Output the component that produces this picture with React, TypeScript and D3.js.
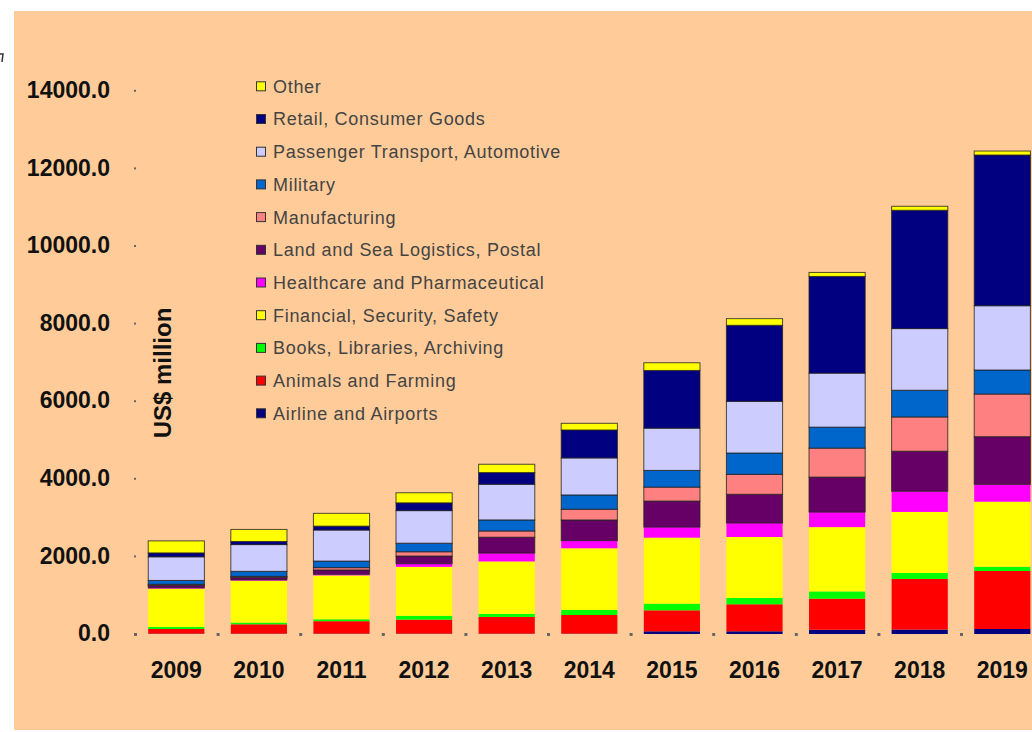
import React from "react";
import * as d3 from "d3";

const years = ["2009", "2010", "2011", "2012", "2013", "2014", "2015", "2016", "2017", "2018", "2019"];

const seriesNames = [
  "Airline and Airports",
  "Animals and Farming",
  "Books, Libraries, Archiving",
  "Financial, Security, Safety",
  "Healthcare and Pharmaceutical",
  "Land and Sea Logistics, Postal",
  "Manufacturing",
  "Military",
  "Passenger Transport, Automotive",
  "Retail, Consumer Goods",
  "Other",
];

const airline = [10, 10, 10, 10, 10, 10, 70, 70, 110, 115, 129];
const animals = [120, 240, 320, 360, 430, 480, 540, 696, 800, 1304, 1495];
const books = [50, 45, 50, 100, 80, 130, 173, 162, 188, 155, 111];
const financial = [990, 1080, 1130, 1260, 1350, 1590, 1700, 1572, 1657, 1572, 1675];
const healthcare = [20, 20, 30, 80, 215, 196, 273, 361, 387, 533, 448];
const land = [60, 60, 110, 200, 410, 533, 670, 740, 902, 1031, 1227];
const manufacturing = [30, 30, 60, 110, 160, 276, 360, 515, 747, 884, 1100];
const military = [100, 130, 170, 220, 285, 369, 430, 549, 541, 688, 619];
const passenger = [610, 690, 800, 840, 920, 954, 1090, 1332, 1392, 1590, 1657];
const retail = [100, 80, 100, 200, 300, 720, 1487, 1959, 2492, 3049, 3884];
const other = [310, 310, 330, 260, 215, 172, 198, 172, 103, 103, 103];

const seriesValues = [airline, animals, books, financial, healthcare, land, manufacturing, military, passenger, retail, other];

const colors = ["#000080", "#FF0000", "#00FF00", "#FFFF00", "#FF00FF", "#660066", "#FF8080", "#0066CC", "#CCCCFF", "#000080", "#FFFF00"];
const outlined = [false, false, false, false, false, true, true, true, true, true, true];

const yTicks = [0, 2000, 4000, 6000, 8000, 10000, 12000, 14000];

export default function App() {
  const W = 1032;
  const H = 732;
  const x = d3.scaleBand<string>().domain(years).range([135, 1043.6]).paddingInner(0.32).paddingOuter(0.16);
  const y = d3.scaleLinear().domain([0, 14000]).range([634, 90.8]);

  const rows = years.map((yr, i) => {
    const r: any = { year: yr };
    seriesNames.forEach((n, k) => (r[n] = seriesValues[k][i]));
    return r;
  });
  const stacked = d3.stack().keys(seriesNames)(rows);

  const legendOrder = seriesNames.map((n, i) => i).reverse();
  const font = "'Liberation Sans', Arial, Helvetica, sans-serif";

  return (
    <svg width={W} height={H} style={{ position: "absolute", left: 0, top: 0, background: "#fff" }}>
      <rect x={14} y={11} width={W - 14} height={719} fill="#FFCC99" />
      <path d="M0,54 L3,54 L2,62" stroke="#333" strokeWidth={1.5} fill="none" />
      <defs>
        <clipPath id="plotclip">
          <rect x={14} y={11} width={W - 14} height={719} />
        </clipPath>
      </defs>

      {yTicks.map((t) => (
        <g key={t}>
          <rect x={134} y={y(t) - 1} width={2} height={2} fill="#666" />
          <text
            x={110}
            y={y(t) - 1}
            dy="0.36em"
            textAnchor="end"
            fontFamily={font}
            fontWeight="bold"
            fontSize={23}
            fill="#111"
          >
            {t.toFixed(1)}
          </text>
        </g>
      ))}

      {years.map((yr, i) => (
        <rect key={yr} x={135 + i * x.step() - 1} y={633} width={3} height={3} fill="#666" />
      ))}

      <text
        transform={`translate(171,373) rotate(-90)`}
        textAnchor="middle"
        fontFamily={font}
        fontWeight="bold"
        fontSize={24}
        fill="#111"
      >
        US$ million
      </text>

      <g clipPath="url(#plotclip)">
        {stacked.map((s, k) => (
          <g key={seriesNames[k]}>
            {s.map((d, i) => (
              <rect
                key={i}
                x={x(years[i])}
                width={x.bandwidth()}
                y={y(d[1])}
                height={Math.max(0, y(d[0]) - y(d[1]))}
                fill={colors[k]}
                stroke={outlined[k] ? "#222" : "none"}
                strokeOpacity={0.8}
                strokeWidth={1}
              />
            ))}
          </g>
        ))}
      </g>

      {years.map((yr) => (
        <text
          key={yr}
          x={(x(yr) as number) + x.bandwidth() / 2}
          y={670}
          dy="0.36em"
          textAnchor="middle"
          fontFamily={font}
          fontWeight="bold"
          fontSize={23}
          fill="#111"
        >
          {yr}
        </text>
      ))}

      {legendOrder.map((k, j) => {
        const cy = 86.3 + j * 32.7;
        return (
          <g key={seriesNames[k]}>
            <rect x={256.5} y={cy - 4.5} width={9} height={9} fill={colors[k]} stroke="#333" strokeWidth={1} />
            <text x={273} y={cy} dy="0.36em" fontFamily={font} fontSize={18} letterSpacing={0.7} fill="#444">
              {seriesNames[k]}
            </text>
          </g>
        );
      })}
    </svg>
  );
}
